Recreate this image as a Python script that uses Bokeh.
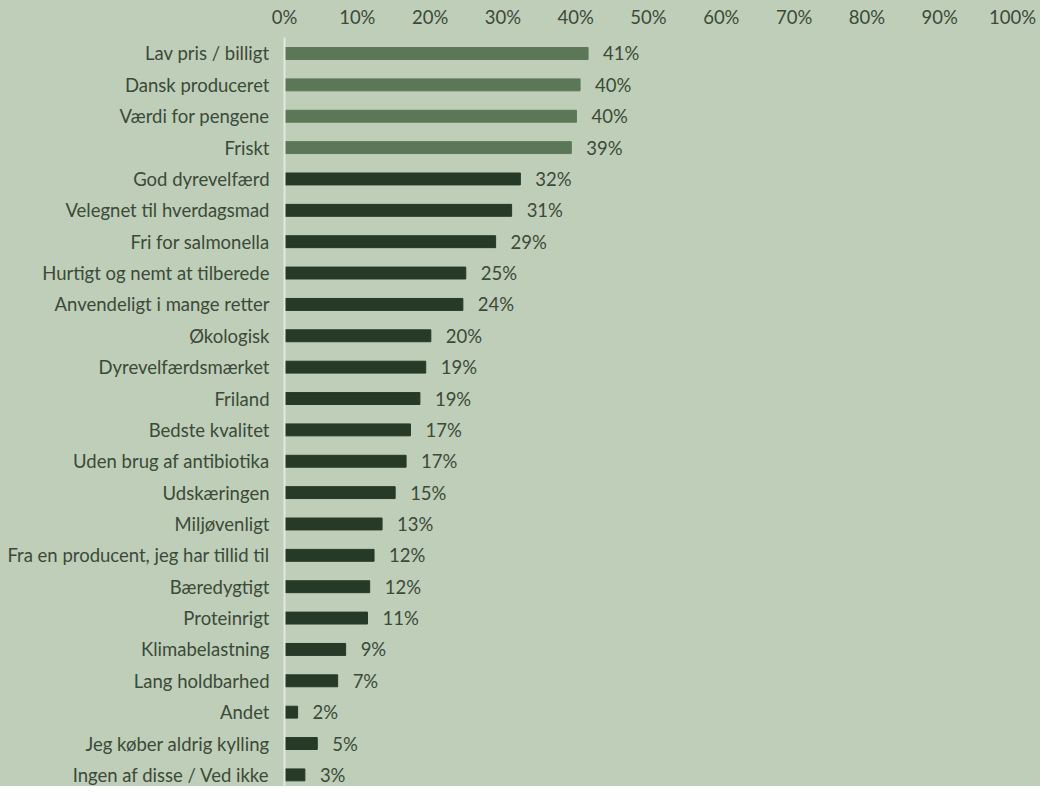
from bokeh.plotting import figure
from bokeh.models import FixedTicker, Range1d, ColumnDataSource, LabelSet
from bokeh.core.properties import value
from bokeh.embed import file_html
from bokeh.resources import INLINE

categories = [
    "Lav pris / billigt", "Dansk produceret", "Værdi for pengene", "Friskt",
    "God dyrevelfærd", "Velegnet til hverdagsmad", "Fri for salmonella",
    "Hurtigt og nemt at tilberede", "Anvendeligt i mange retter", "Økologisk",
    "Dyrevelfærdsmærket", "Friland", "Bedste kvalitet", "Uden brug af antibiotika",
    "Udskæringen", "Miljøvenligt", "Fra en producent, jeg har tillid til",
    "Bæredygtigt", "Proteinrigt", "Klimabelastning", "Lang holdbarhed", "Andet",
    "Jeg køber aldrig kylling", "Ingen af disse / Ved ikke",
]
values = [41.7, 40.6, 40.1, 39.4, 32.4, 31.2, 29.0, 24.9, 24.5, 20.1, 19.4, 18.6,
          17.3, 16.7, 15.2, 13.4, 12.3, 11.7, 11.4, 8.4, 7.3, 1.8, 4.5, 2.8]
value_labels = ["41%", "40%", "40%", "39%", "32%", "31%", "29%", "25%", "24%", "20%",
                "19%", "19%", "17%", "17%", "15%", "13%", "12%", "12%", "11%", "9%",
                "7%", "2%", "5%", "3%"]
x_ticks = [0, 10, 20, 30, 40, 50, 60, 70, 80, 90, 100]
x_tick_labels = ["0%", "10%", "20%", "30%", "40%", "50%", "60%", "70%", "80%", "90%", "100%"]
highlight_count = 4

BG = "#bfceb8"
LIGHT = "#5c7757"
DARK = "#263a27"
TEXT = "#3b4a39"
FONT = "Lato"
FS = "18.5px"

n = len(categories)
idx = list(range(n))
colors = [LIGHT if i < highlight_count else DARK for i in idx]
src = ColumnDataSource(dict(y=idx, v=values, lab=value_labels, c=colors))

p = figure(width=1040, height=786, output_backend="svg", toolbar_location=None,
           x_range=Range1d(0, 100), y_range=Range1d(n - 1 + 0.37, -0.51),
           x_axis_location="above")
p.styles = {"background-color": BG}
p.min_border_left = 284
p.min_border_right = 28
p.min_border_top = 37
p.min_border_bottom = 0
p.background_fill_color = BG
p.border_fill_color = BG
p.outline_line_color = None
p.xgrid.grid_line_color = None
p.ygrid.grid_line_color = None

p.hbar(y="y", right="v", left=0, height=0.38, color="c", source=src)

labels = LabelSet(x="v", y="y", text="lab", source=src, x_offset=15,
                  text_align="left", text_baseline="middle",
                  text_font=value(FONT), text_font_size=value(FS), text_color=TEXT)
p.add_layout(labels)

xa = p.xaxis[0]
xa.ticker = FixedTicker(ticks=x_ticks)
xa.major_label_overrides = {t: l for t, l in zip(x_ticks, x_tick_labels)}
xa.axis_line_color = None
xa.major_tick_line_color = None
xa.minor_tick_line_color = None
xa.major_tick_out = 0
xa.major_tick_in = 0
xa.major_label_standoff = 10
xa.major_label_text_font = FONT
xa.major_label_text_font_size = FS
xa.major_label_text_color = TEXT

ya = p.yaxis[0]
ya.ticker = FixedTicker(ticks=idx)
ya.major_label_overrides = {i: c for i, c in zip(idx, categories)}
ya.axis_line_color = "#e4e7e2"
ya.axis_line_width = 2
ya.major_tick_line_color = None
ya.minor_tick_line_color = None
ya.major_tick_out = 0
ya.major_tick_in = 0
ya.major_label_standoff = 15
ya.major_label_text_font = FONT
ya.major_label_text_font_size = FS
ya.major_label_text_color = TEXT

open("out.html", "w").write(file_html(p, INLINE))
